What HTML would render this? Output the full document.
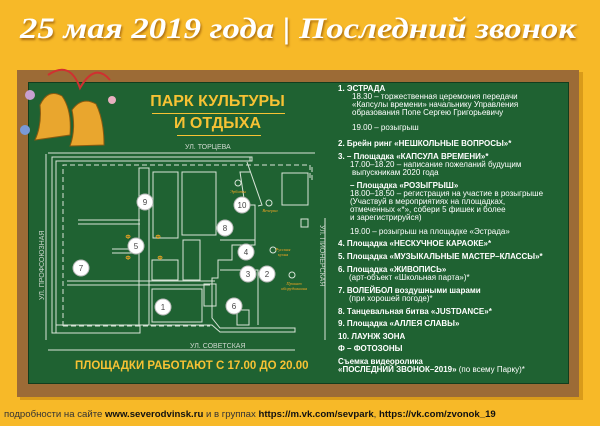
<!DOCTYPE html>
<html><head><meta charset="utf-8"><style>
*{margin:0;padding:0}
body{width:600px;height:426px;overflow:hidden;background:#f7b928;font-family:"Liberation Sans","DejaVu Sans",sans-serif;position:relative}
.a{position:absolute;white-space:nowrap}
.t{color:#fff;font-size:8px;line-height:8px;font-family:"Liberation Sans Narrow","Liberation Sans",sans-serif}
.b{font-weight:bold}
</style></head><body>
<div class="a" style="left:20px;top:12px;font-family:'Liberation Serif',serif;font-style:italic;font-weight:bold;font-size:30px;color:#fff;text-shadow:1px 2px 2px rgba(120,60,0,.6);transform:scaleX(1.16);transform-origin:left top">25 мая 2019 года | Последний звонок</div>
<div class="a" style="left:20px;top:72px;width:563px;height:328px;background:rgba(160,100,0,.35)"></div>
<div class="a" style="left:17px;top:70px;width:562px;height:327px;background:#9c6b36"></div>
<div class="a" style="left:28px;top:82px;width:541px;height:302px;background:#1f6232;border:1px solid #123d1d;box-sizing:border-box"></div>
<div class="a" style="left:150px;top:92px;font-weight:bold;color:#f7c234;line-height:20px;text-align:center;width:135px;font-family:'Liberation Sans Narrow','Liberation Sans',sans-serif;font-size:16px">ПАРК КУЛЬТУРЫ</div>
<div class="a" style="left:152px;top:113px;width:133px;height:1px;background:#f7c234"></div>
<div class="a" style="left:150px;top:114px;font-weight:bold;color:#f7c234;line-height:20px;text-align:center;width:135px;font-family:'Liberation Sans Narrow','Liberation Sans',sans-serif;font-size:16px">И ОТДЫХА</div>
<div class="a" style="left:177px;top:135px;width:84px;height:1px;background:#f7c234"></div>
<svg class="a" style="left:0;top:0" width="600" height="426">
<g fill="#e9a62e" stroke="#8a5a10" stroke-width="1">
<path d="M40 105 Q48 88 62 96 Q72 110 70 135 L35 140 Q42 125 40 105Z"/>
<path d="M72 110 Q82 96 96 104 Q104 120 104 145 L70 146 Q76 130 72 110Z"/>
</g>
<path d="M48 75 Q70 60 80 88 Q95 62 110 80" stroke="#d03030" stroke-width="2" fill="none"/>
<circle cx="30" cy="95" r="5" fill="#c8a0d0"/><circle cx="112" cy="100" r="4" fill="#e8b0c0"/><circle cx="25" cy="130" r="5" fill="#7a9ad8"/>
<g stroke="#d8e4d8" stroke-width="1" fill="none">
<line x1="48" y1="153" x2="315" y2="153"/><line x1="46" y1="154" x2="46" y2="340"/>
<line x1="48" y1="350" x2="295" y2="350"/><line x1="325" y1="218" x2="325" y2="340"/>
<path d="M52 157 H252 V161 H56 V333 H52Z"/>
<path d="M148 161 H250 V157"/>
<path d="M56 333 H140 V325 H56"/>
<path d="M150 325 H212 L220 332 H295 V328 H220 L212 318 V278 H218 V260 H232 V245 H255 V205 H245 L240 172 H250"/>
<path d="M247 162 L262 205 L258 206"/>
<g stroke-dasharray="5,3"><path d="M63 326 V165 H310 V180"/><path d="M63 326 H210"/><path d="M312 180 V165"/></g>
<path d="M139 168 H149 V325 H139Z"/><path d="M139 168 V222 M149 168 V220"/>
<line x1="78" y1="220" x2="140" y2="220"/><line x1="78" y1="224" x2="140" y2="224"/>
<line x1="112" y1="249" x2="132" y2="249"/><line x1="112" y1="253" x2="132" y2="253"/>
<line x1="67" y1="281" x2="215" y2="281"/><line x1="67" y1="285" x2="210" y2="285"/>
<rect x="153" y="172" width="25" height="66"/><rect x="182" y="172" width="34" height="63"/>
<rect x="183" y="240" width="17" height="40"/><rect x="152" y="260" width="26" height="20"/>
<rect x="152" y="289" width="50" height="33"/><rect x="204" y="284" width="12" height="22"/>
<rect x="282" y="173" width="26" height="32"/><rect x="301" y="219" width="7" height="8"/>
<rect x="237" y="310" width="12" height="15"/>
<path d="M220 240 H255 M220 270 H258 V325"/>
<circle cx="238" cy="183" r="3"/><circle cx="269" cy="203" r="3"/><circle cx="273" cy="250" r="3"/><circle cx="292" cy="275" r="3"/>
</g>
<g fill="#fff" stroke="#bbb" stroke-width="1">
<circle cx="145" cy="202" r="8"/><circle cx="242" cy="205" r="8"/><circle cx="225" cy="228" r="8"/><circle cx="136" cy="246" r="8"/><circle cx="246" cy="252" r="8"/><circle cx="81" cy="268" r="8"/><circle cx="248" cy="274" r="8"/><circle cx="267" cy="274" r="8"/><circle cx="234" cy="306" r="8"/><circle cx="163" cy="307" r="8"/>
</g>
<g font-family="Liberation Sans" font-size="8" fill="#444" text-anchor="middle">
<text x="145" y="205">9</text><text x="242" y="208">10</text><text x="225" y="231">8</text><text x="136" y="249">5</text><text x="246" y="255">4</text><text x="81" y="271">7</text><text x="248" y="277">3</text><text x="267" y="277">2</text><text x="234" y="309">6</text><text x="163" y="310">1</text>
</g>
<g font-family="Liberation Sans" font-size="6" font-weight="bold" fill="#f4a623" text-anchor="middle">
<text x="128" y="239">Ф</text><text x="158" y="239">Ф</text><text x="128" y="260">Ф</text><text x="160" y="260">Ф</text>
</g>
<g font-family="Liberation Serif" font-style="italic" font-size="4.5" fill="#f4a623" text-anchor="middle">
<text x="238" y="193">Эрбиты</text><text x="270" y="212">Вечерка</text><text x="283" y="251">Русская</text><text x="283" y="256">кухня</text><text x="294" y="285">Прокат</text><text x="294" y="290">оборудования</text>
</g>
<g font-family="Liberation Sans" font-size="7" fill="#cfd8cf">
<text x="185" y="149">УЛ. ТОРЦЕВА</text><text x="190" y="348">УЛ. СОВЕТСКАЯ</text>
<text transform="translate(44,300) rotate(-90)">УЛ. ПРОФСОЮЗНАЯ</text>
<text transform="translate(320,225) rotate(90)">УЛ. ПИОНЕРСКАЯ</text>
</g>
</svg>
<div class="a" style="left:75px;top:360px;font-size:11.5px;font-weight:bold;color:#f7c234">ПЛОЩАДКИ РАБОТАЮТ С 17.00 ДО 20.00</div>
<div class="a t b" style="left:338px;top:85px">1. ЭСТРАДА</div>
<div class="a t" style="left:352px;top:93px">18.30 – торжественная церемония передачи</div>
<div class="a t" style="left:352px;top:101px">«Капсулы времени» начальнику Управления</div>
<div class="a t" style="left:352px;top:109px">образования Попе Сергею Григорьевичу</div>
<div class="a t" style="left:352px;top:124px">19.00 – розыгрыш</div>
<div class="a t b" style="left:338px;top:140px">2. Брейн ринг «НЕШКОЛЬНЫЕ ВОПРОСЫ»*</div>
<div class="a t b" style="left:338px;top:153px">3. – Площадка «КАПСУЛА ВРЕМЕНИ»*</div>
<div class="a t" style="left:350px;top:161px">17.00–18.20 – написание пожеланий будущим</div>
<div class="a t" style="left:352px;top:169px">выпускникам 2020 года</div>
<div class="a t b" style="left:350px;top:182px">– Площадка «РОЗЫГРЫШ»</div>
<div class="a t" style="left:350px;top:190px">18.00–18.50 – регистрация на участие в розыгрыше</div>
<div class="a t" style="left:350px;top:198px">(Участвуй в мероприятиях на площадках,</div>
<div class="a t" style="left:350px;top:206px">отмеченных «*», собери 5 фишек и более</div>
<div class="a t" style="left:350px;top:214px">и зарегистрируйся)</div>
<div class="a t" style="left:350px;top:228px">19.00 – розыгрыш на площадке «Эстрада»</div>
<div class="a t b" style="left:338px;top:240px">4. Площадка «НЕСКУЧНОЕ КАРАОКЕ»*</div>
<div class="a t b" style="left:338px;top:253px">5. Площадка «МУЗЫКАЛЬНЫЕ МАСТЕР–КЛАССЫ»*</div>
<div class="a t b" style="left:338px;top:266px">6. Площадка «ЖИВОПИСЬ»</div>
<div class="a t" style="left:349px;top:274px">(арт-объект «Школьная парта»)*</div>
<div class="a t b" style="left:338px;top:287px">7. ВОЛЕЙБОЛ воздушными шарами</div>
<div class="a t" style="left:349px;top:295px">(при хорошей погоде)*</div>
<div class="a t b" style="left:338px;top:308px">8. Танцевальная битва «JUSTDANCE»*</div>
<div class="a t b" style="left:338px;top:320px">9. Площадка «АЛЛЕЯ СЛАВЫ»</div>
<div class="a t b" style="left:338px;top:333px">10. ЛАУНЖ ЗОНА</div>
<div class="a t b" style="left:338px;top:345px">Ф – ФОТОЗОНЫ</div>
<div class="a t b" style="left:338px;top:358px">Съемка видеоролика</div>
<div class="a t" style="left:338px;top:366px"><b>«ПОСЛЕДНИЙ ЗВОНОК–2019»</b> (по всему Парку)*</div>
<div class="a" style="left:4px;top:409px;font-size:9.6px;color:#333">подробности на сайте <b style="color:#111">www.severodvinsk.ru</b> и в группах <b style="color:#111">https://m.vk.com/sevpark</b>, <b style="color:#111">https://vk.com/zvonok_19</b></div>
</body></html>
